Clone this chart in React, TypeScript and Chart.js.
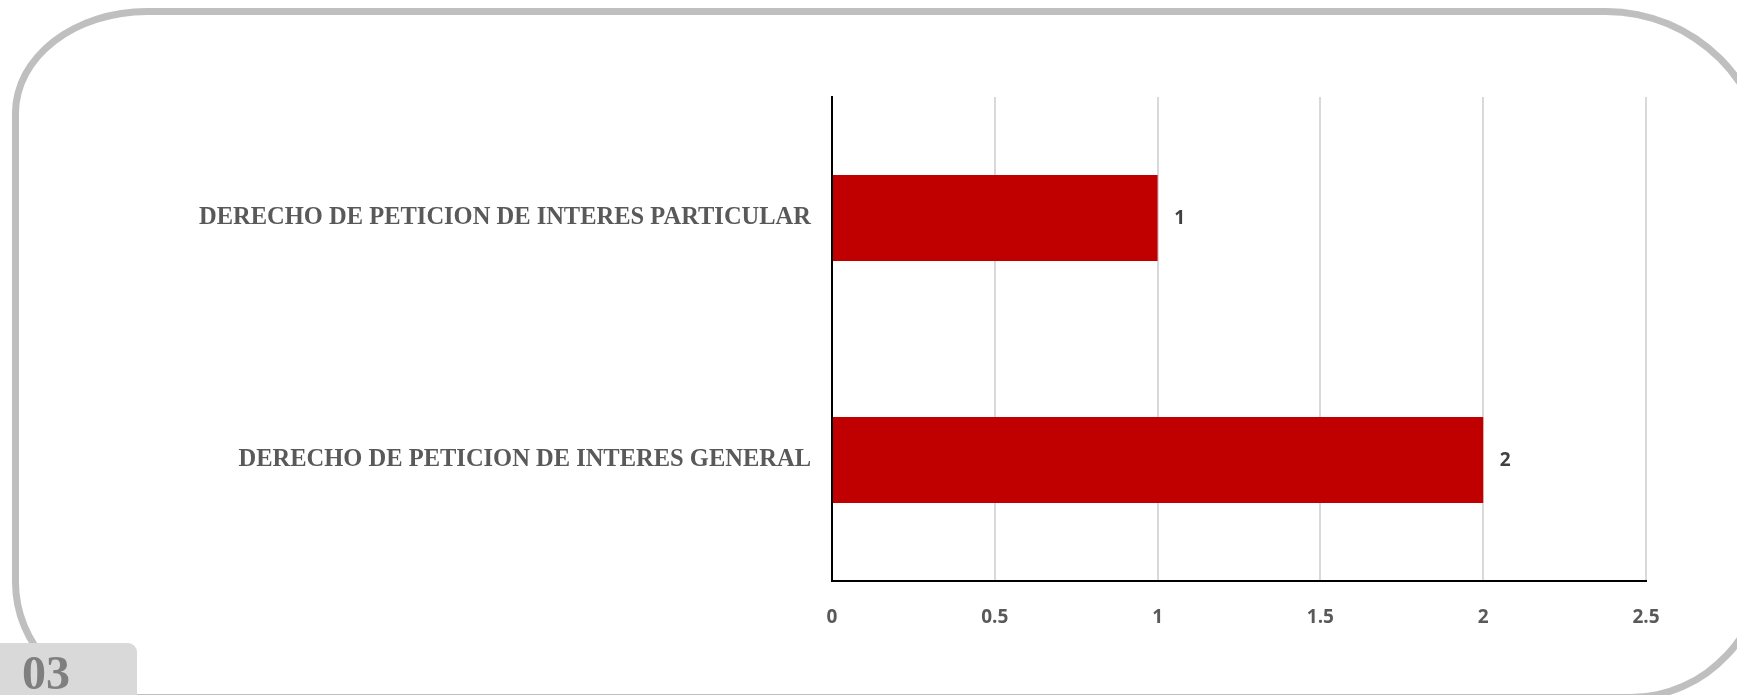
import React, { useEffect, useRef } from "react";
import { Chart, registerables } from "chart.js";

Chart.register(...registerables);

const categories = [
  "DERECHO DE PETICION DE INTERES PARTICULAR",
  "DERECHO DE PETICION DE INTERES GENERAL",
];
const values = [1, 2];
const xTicks = [0, 0.5, 1, 1.5, 2, 2.5];
const xTickLabels = ["0", "0.5", "1", "1.5", "2", "2.5"];
const pageNumber = "03";

const W = 1737;
const H = 695;

const valueLabels = {
  id: "valueLabels",
  afterDatasetsDraw(chart: any) {
    const ctx = chart.ctx;
    const meta = chart.getDatasetMeta(0);
    ctx.save();
    ctx.font = "bold 19px 'Open Sans'";
    ctx.fillStyle = "#404040";
    ctx.textAlign = "center";
    ctx.textBaseline = "middle";
    meta.data.forEach((bar: any, i: number) => {
      ctx.fillText(String(values[i]), bar.x + 22, bar.y + 1);
    });
    ctx.restore();
  },
};

export default function App() {
  const ref = useRef<HTMLCanvasElement | null>(null);
  useEffect(() => {
    if (!ref.current) return;
    const chart = new Chart(ref.current, {
      type: "bar",
      data: {
        labels: categories,
        datasets: [
          {
            data: values,
            backgroundColor: "#C00000",
            borderWidth: 0,
            barPercentage: 0.355,
            categoryPercentage: 1,
          },
        ],
      },
      options: {
        indexAxis: "y",
        animation: false,
        responsive: false,
        maintainAspectRatio: false,
        devicePixelRatio: 1,
        layout: { padding: { top: 97, right: 91, left: 0, bottom: 0 } },
        plugins: { legend: { display: false }, tooltip: { enabled: false } },
        scales: {
          x: {
            min: 0,
            max: 2.5,
            afterBuildTicks: (scale: any) => {
              scale.ticks = xTicks.map((v) => ({ value: v }));
            },
            afterFit: (scale: any) => {
              scale.height = 114;
            },
            ticks: {
              color: "#595959",
              font: { family: "'Open Sans'", size: 19, weight: "bold" },
              padding: 25,
              maxRotation: 0,
              callback: (_v: any, i: number) => xTickLabels[i],
            },
            grid: { color: "#d9d9d9", lineWidth: 2, drawTicks: false },
            border: { color: "#000000", width: 2 },
          },
          y: {
            afterFit: (scale: any) => {
              scale.width = 832;
            },
            ticks: {
              color: "#595959",
              font: { family: "'Liberation Serif'", size: 24.5, weight: "bold" },
              padding: 21,
            },
            grid: { display: false, drawTicks: false },
            border: { color: "#000000", width: 2 },
          },
        },
      },
      plugins: [valueLabels],
    });
    return () => chart.destroy();
  }, []);

  return (
    <div
      style={{
        position: "fixed",
        left: 0,
        top: 0,
        width: W,
        height: H,
        overflow: "hidden",
        background: "#ffffff",
      }}
    >
      <div
        style={{
          position: "absolute",
          left: 12,
          top: 8,
          width: 1759,
          height: 693,
          boxSizing: "border-box",
          border: "7px solid #bfbfbf",
          borderRadius: "135px 165px 140px 119px / 105px 165px 150px 119px",
        }}
      />
      <canvas
        ref={ref}
        width={W}
        height={H}
        style={{ position: "absolute", left: 0, top: 0, width: W, height: H }}
      />
      <div
        style={{
          position: "absolute",
          left: 0,
          top: 643,
          width: 137,
          height: 60,
          background: "#d9d9d9",
          borderTopRightRadius: 9,
        }}
      >
        <span
          style={{
            position: "absolute",
            left: 22,
            top: 0,
            fontFamily: "'Liberation Serif', serif",
            fontWeight: "bold",
            fontSize: 48,
            lineHeight: "60px",
            color: "#7f7f7f",
          }}
        >
          {pageNumber}
        </span>
      </div>
    </div>
  );
}
